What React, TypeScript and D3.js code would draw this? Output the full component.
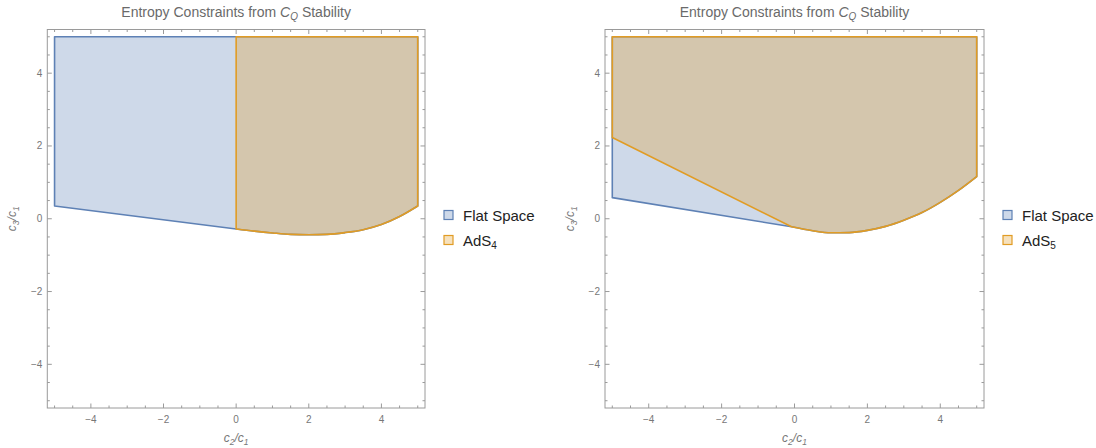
import * as d3 from 'd3';

const W = 1096;
const H = 448;

const xTicks = [-4, -2, 0, 2, 4];
const yTicks = [-4, -2, 0, 2, 4];
const minorStep = 0.5;
const regionTop = 5;

// left panel (AdS4)
const flatLeftLower: [number, number][] = [[-5, 0.35], [0, -0.28]];
const ads4X = [0, 0.5, 1, 1.5, 2, 2.5, 3, 3.5, 4, 4.5, 5];
const ads4Y = [-0.28, -0.34, -0.39, -0.43, -0.44, -0.43, -0.38, -0.3, -0.16, 0.06, 0.35];

// right panel (AdS5)
const flatRightLower: [number, number][] = [[-5, 0.58], [-0.08, -0.22]];
const ads5LineStart: [number, number] = [-5, 2.23];
const ads5X = [-0.08, 0.5, 1, 1.5, 2, 2.5, 3, 3.5, 4, 4.5, 5];
const ads5Y = [-0.22, -0.33, -0.385, -0.38, -0.32, -0.21, -0.04, 0.17, 0.45, 0.78, 1.16];

const BLUE = '#5e81b5';
const ORANGE = '#e19c24';
const FONT = 'Liberation Sans, Arial, sans-serif';

type Pt = [number, number];

// region = straight lead-in points, then a smooth curve (ascending x), then straight points to close
type Region = { pre: Pt[]; curve: Pt[]; post: Pt[] };

function Panel({ left, right, flat, ads, sub }: { left: number; right: number; flat: Region; ads: Region; sub: string }) {
  const x = d3.scaleLinear().domain([-5.2, 5.2]).range([left, right]);
  const y = d3.scaleLinear().domain([-5.2, 5.2]).range([408, 29.5]);
  const curve = d3.line<Pt>().x((d) => x(d[0])).y((d) => y(d[1])).curve(d3.curveMonotoneX);
  const pathOf = (r: Region) => {
    const c = curve(r.curve) || '';
    const pre = r.pre.map((p, i) => `${i === 0 ? 'M' : 'L'}${x(p[0])},${y(p[1])}`).join('');
    const body = pre ? pre + 'L' + c.slice(1) : c;
    const post = r.post.map((p) => `L${x(p[0])},${y(p[1])}`).join('');
    return body + post + 'Z';
  };
  const minors = d3.range(-5, 5.01, minorStep);
  const [x0, x1] = x.range();
  const [y0, y1] = y.range();
  const cx = (x0 + x1) / 2;
  const cy = (y0 + y1) / 2;

  return (
    <g>
      <path d={pathOf(flat)} fill={BLUE} fillOpacity={0.3} stroke={BLUE} strokeWidth={1.6} strokeLinejoin="round" />
      <path d={pathOf(ads)} fill={ORANGE} fillOpacity={0.3} stroke={ORANGE} strokeWidth={1.6} strokeLinejoin="round" />
      <rect x={x0} y={y1} width={x1 - x0} height={y0 - y1} fill="none" stroke="#9a9a9a" strokeWidth={1} />
      {minors.map((v) => {
        const major = xTicks.includes(v);
        const len = major ? 4.5 : 2.5;
        return (
          <g key={v} stroke="#9a9a9a" strokeWidth={1}>
            <line x1={x(v)} x2={x(v)} y1={y0} y2={y0 - len} />
            <line x1={x(v)} x2={x(v)} y1={y1} y2={y1 + len} />
            <line x1={x0} x2={x0 + len} y1={y(v)} y2={y(v)} />
            <line x1={x1} x2={x1 - len} y1={y(v)} y2={y(v)} />
          </g>
        );
      })}
      {xTicks.map((v) => (
        <text key={'x' + v} x={x(v)} y={y0 + 15} textAnchor="middle" fontSize={10} fill="#777" fontFamily={FONT}>
          {v < 0 ? '\u2212' + Math.abs(v) : v}
        </text>
      ))}
      {yTicks.map((v) => (
        <text key={'y' + v} x={x0 - 5} y={y(v) + 3.5} textAnchor="end" fontSize={10} fill="#777" fontFamily={FONT}>
          {v < 0 ? '\u2212' + Math.abs(v) : v}
        </text>
      ))}
      <text x={cx} y={17} textAnchor="middle" fontSize={14} fill="#6a6a6a" fontFamily={FONT}>
        Entropy Constraints from <tspan fontStyle="italic">C</tspan>
        <tspan fontStyle="italic" fontSize={10} dy={3}>Q</tspan>
        <tspan dy={-3}> Stability</tspan>
      </text>
      <text x={cx} y={442} textAnchor="middle" fontSize={12} fill="#777" fontFamily={FONT} fontStyle="italic">
        c<tspan fontSize={8.5} dy={2.5}>2</tspan><tspan dy={-2.5}>/c</tspan><tspan fontSize={8.5} dy={2.5}>1</tspan>
      </text>
      <text transform={`translate(${x0 - 31},${cy}) rotate(-90)`} textAnchor="middle" fontSize={12} fill="#777" fontFamily={FONT} fontStyle="italic">
        c<tspan fontSize={8.5} dy={2.5}>3</tspan><tspan dy={-2.5}>/c</tspan><tspan fontSize={8.5} dy={2.5}>1</tspan>
      </text>
      <g fontFamily={FONT} fontSize={15} fill="#222">
        <rect x={x1 + 19} y={210.5} width={9} height={9} fill={BLUE} fillOpacity={0.3} stroke={BLUE} strokeWidth={1.2} />
        <text x={x1 + 38} y={220.5}>Flat Space</text>
        <rect x={x1 + 19} y={235.5} width={9} height={9} fill={ORANGE} fillOpacity={0.3} stroke={ORANGE} strokeWidth={1.2} />
        <text x={x1 + 38} y={245.5}>AdS<tspan fontSize={10} dy={3}>{sub}</tspan></text>
      </g>
    </g>
  );
}

export default function App() {
  const ads4Curve = ads4X.map((v, i) => [v, ads4Y[i]] as Pt);
  const ads5Curve = ads5X.map((v, i) => [v, ads5Y[i]] as Pt);

  const flatL: Region = { pre: [[-5, regionTop], ...flatLeftLower], curve: ads4Curve, post: [[5, regionTop]] };
  const ads4: Region = { pre: [[0, regionTop]], curve: ads4Curve, post: [[5, regionTop]] };
  const flatR: Region = { pre: [[-5, regionTop], ...flatRightLower], curve: ads5Curve, post: [[5, regionTop]] };
  const ads5: Region = { pre: [[-5, regionTop], ads5LineStart], curve: ads5Curve, post: [[5, regionTop]] };

  return (
    <svg width={W} height={H} style={{ position: 'absolute', left: 0, top: 0, background: '#fff' }}>
      <Panel left={47.3} right={425} flat={flatL} ads={ads4} sub="4" />
      <Panel left={605} right={984} flat={flatR} ads={ads5} sub="5" />
    </svg>
  );
}
